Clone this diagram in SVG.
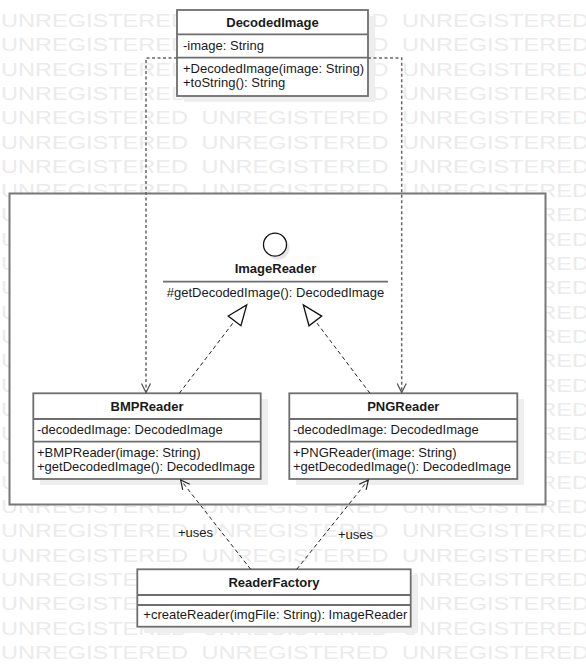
<svg xmlns="http://www.w3.org/2000/svg" width="586" height="667" viewBox="0 0 586 667">
  <style>
    .wm { font-family: "Liberation Sans", Arial, sans-serif; font-size: 19px; fill: #ebebeb; }
    .t { font-family: "Liberation Sans", Arial, sans-serif; font-size: 13px; fill: #1a1a1a; }
    .b { font-weight: bold; }
    .box { fill: #ffffff; stroke: #6e6e6e; stroke-width: 1.8; }
    .shadow { fill: #eeeeee; }
    .sep { stroke: #6e6e6e; stroke-width: 1.8; }
    .dep { fill: none; stroke: #666666; stroke-width: 1.5; stroke-dasharray: 3 2.5; }
    .dash { fill: none; stroke: #222222; stroke-width: 1; stroke-dasharray: 4 3; }
  </style>
  <defs>
    <g id="wmrow">
      <text class="wm" x="1" textLength="187" lengthAdjust="spacingAndGlyphs">UNREGISTERED</text>
      <text class="wm" x="201.5" textLength="187" lengthAdjust="spacingAndGlyphs">UNREGISTERED</text>
      <text class="wm" x="402" textLength="187" lengthAdjust="spacingAndGlyphs">UNREGISTERED</text>
    </g>
    <marker id="open" viewBox="0 0 10 10" refX="10" refY="5" markerWidth="9" markerHeight="9" markerUnits="userSpaceOnUse" orient="auto" overflow="visible">
      <path d="M0,0 L10,5 L0,10" fill="none" stroke="#222222" stroke-width="1.3" stroke-dasharray="none"/>
    </marker>
    <marker id="opengray" viewBox="0 0 10 10" refX="10" refY="5" markerWidth="9" markerHeight="9" markerUnits="userSpaceOnUse" orient="auto" overflow="visible">
      <path d="M0,0 L10,5 L0,10" fill="none" stroke="#555555" stroke-width="1.4" stroke-dasharray="none"/>
    </marker>
    <marker id="realize" viewBox="0 0 20 16" refX="20" refY="8" markerWidth="20" markerHeight="16" markerUnits="userSpaceOnUse" orient="auto" overflow="visible">
      <path d="M0,0 L20,8 L0,16 Z" fill="#ffffff" stroke="#111111" stroke-width="1.3" stroke-dasharray="none"/>
    </marker>
  </defs>

  <rect x="0" y="0" width="586" height="667" fill="#ffffff"/>

  <!-- background watermark rows -->
  <g id="watermark">
    <use href="#wmrow" y="27"/>
    <use href="#wmrow" y="51.3"/>
    <use href="#wmrow" y="75.6"/>
    <use href="#wmrow" y="99.9"/>
    <use href="#wmrow" y="124.2"/>
    <use href="#wmrow" y="148.5"/>
    <use href="#wmrow" y="172.8"/>
    <use href="#wmrow" y="197.1"/>
    <use href="#wmrow" y="221.4"/>
    <use href="#wmrow" y="245.7"/>
    <use href="#wmrow" y="270"/>
    <use href="#wmrow" y="294.3"/>
    <use href="#wmrow" y="318.6"/>
    <use href="#wmrow" y="342.9"/>
    <use href="#wmrow" y="367.2"/>
    <use href="#wmrow" y="391.5"/>
    <use href="#wmrow" y="415.8"/>
    <use href="#wmrow" y="440.1"/>
    <use href="#wmrow" y="464.4"/>
    <use href="#wmrow" y="488.7"/>
    <use href="#wmrow" y="513"/>
    <use href="#wmrow" y="537.3"/>
    <use href="#wmrow" y="561.6"/>
    <use href="#wmrow" y="585.9"/>
    <use href="#wmrow" y="610.2"/>
    <use href="#wmrow" y="634.5"/>
    <use href="#wmrow" y="658.8"/>
  </g>

  <!-- readers container -->
  <g id="readers-package">
    <rect x="9.5" y="193.5" width="536" height="311" fill="#ffffff" stroke="#777777" stroke-width="2"/>
  </g>

  <!-- DecodedImage class -->
  <g id="DecodedImage">
    <rect class="shadow" x="184" y="16" width="191" height="86"/>
    <rect class="box" x="177" y="10" width="191" height="86"/>
    <line class="sep" x1="177" y1="34.3" x2="368" y2="34.3"/>
    <line class="sep" x1="177" y1="57.7" x2="368" y2="57.7"/>
    <text class="t b" x="272.5" y="27" text-anchor="middle">DecodedImage</text>
    <text class="t" x="183" y="49.5">-image: String</text>
    <text class="t" x="183" y="73.3">+DecodedImage(image: String)</text>
    <text class="t" x="183" y="87.3">+toString(): String</text>
  </g>

  <!-- ImageReader interface -->
  <g id="ImageReader">
    <circle cx="278" cy="248" r="11.5" fill="#e6e6e6"/>
    <circle cx="275" cy="244.7" r="11.5" fill="#ffffff" stroke="#111111" stroke-width="1.3"/>
    <text class="t b" x="275.5" y="273.3" text-anchor="middle">ImageReader</text>
    <line class="sep" x1="163" y1="281.7" x2="388" y2="281.7"/>
    <text class="t" x="275.5" y="296.7" text-anchor="middle">#getDecodedImage(): DecodedImage</text>
  </g>

  <!-- BMPReader class -->
  <g id="BMPReader">
    <rect class="shadow" x="40" y="399" width="228" height="86"/>
    <rect class="box" x="33.3" y="393.3" width="227.4" height="85.7"/>
    <line class="sep" x1="33.3" y1="419" x2="260.7" y2="419"/>
    <line class="sep" x1="33.3" y1="441.7" x2="260.7" y2="441.7"/>
    <text class="t b" x="147" y="410.8" text-anchor="middle">BMPReader</text>
    <text class="t" x="37" y="434">-decodedImage: DecodedImage</text>
    <text class="t" x="37" y="456.8">+BMPReader(image: String)</text>
    <text class="t" x="37" y="470.8">+getDecodedImage(): DecodedImage</text>
  </g>

  <!-- PNGReader class -->
  <g id="PNGReader">
    <rect class="shadow" x="296" y="399" width="228" height="86"/>
    <rect class="box" x="289.3" y="393.3" width="228" height="85.7"/>
    <line class="sep" x1="289.3" y1="419" x2="517.3" y2="419"/>
    <line class="sep" x1="289.3" y1="441.7" x2="517.3" y2="441.7"/>
    <text class="t b" x="403.3" y="410.8" text-anchor="middle">PNGReader</text>
    <text class="t" x="293" y="434">-decodedImage: DecodedImage</text>
    <text class="t" x="293" y="456.8">+PNGReader(image: String)</text>
    <text class="t" x="293" y="470.8">+getDecodedImage(): DecodedImage</text>
  </g>

  <!-- ReaderFactory class -->
  <g id="ReaderFactory">
    <rect class="shadow" x="144" y="575" width="274" height="58"/>
    <rect class="box" x="137.3" y="569.3" width="273.4" height="57.4"/>
    <line class="sep" x1="137.3" y1="595" x2="410.7" y2="595"/>
    <line class="sep" x1="137.3" y1="605" x2="410.7" y2="605"/>
    <text class="t b" x="274" y="587.3" text-anchor="middle">ReaderFactory</text>
    <text class="t" x="143.3" y="619.2">+createReader(imgFile: String): ImageReader</text>
  </g>

  <!-- connectors -->
  <g id="connectors">
    <!-- DecodedImage dependencies -->
    <path class="dep" d="M177,58 H146 V392.5" marker-end="url(#opengray)"/>
    <path class="dep" d="M368,58 H401.7 V392.5" marker-end="url(#opengray)"/>
    <!-- interface realizations -->
    <path class="dash" d="M179.3,393.3 L246.7,305" marker-end="url(#realize)"/>
    <path class="dash" d="M370,393.3 L303.3,305" marker-end="url(#realize)"/>
    <!-- factory usages -->
    <path class="dash" d="M250.7,569.3 L180.7,480" marker-end="url(#open)"/>
    <path class="dash" d="M296.7,569.3 L368.3,480" marker-end="url(#open)"/>
    <text class="t" x="178" y="536.5">+uses</text>
    <text class="t" x="338" y="538.5">+uses</text>
  </g>
</svg>
